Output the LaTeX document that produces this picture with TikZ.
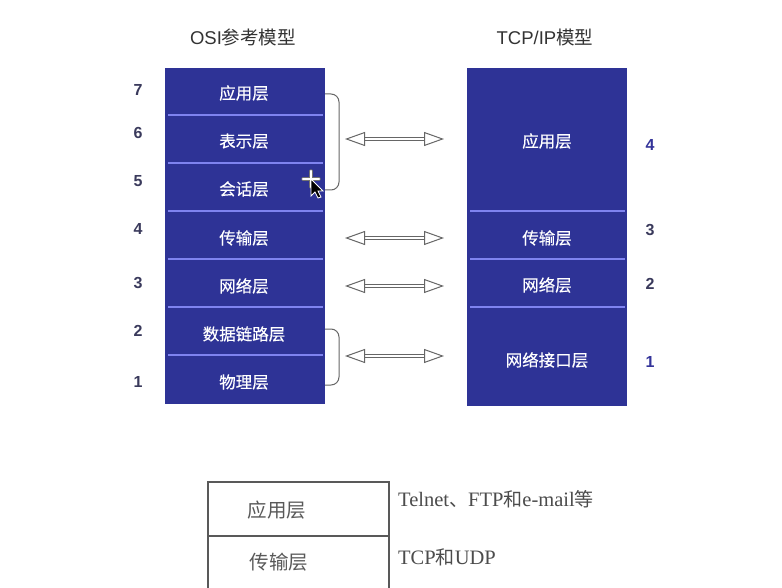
\documentclass[tikz,border=0pt]{standalone}
\usepackage{fontspec}
\setmainfont{Liberation Sans}
\newfontfamily\cjk{Noto Sans CJK SC}
\newfontfamily\cjkw[FakeBold=0.35]{Noto Sans CJK SC}
\newfontfamily\serifl{Liberation Serif}
\usetikzlibrary{arrows.meta}
\definecolor{layerblue}{HTML}{2E3396}
\definecolor{seplight}{HTML}{7F83F0}
\definecolor{numgray}{HTML}{3A3A5C}
\definecolor{numblue}{HTML}{34349A}
\definecolor{titlegray}{HTML}{333333}
\tikzset{
  x=1pt,y=-1pt,
  layer/.style={anchor=center,text=white,font=\cjkw\fontsize{16.5}{18}\selectfont,inner sep=0pt},
  blockfill/.style={fill=layerblue,draw=none},
  sep/.style={draw=seplight,line width=1.3pt},
  title/.style={text=titlegray,font=\fontsize{18.5}{20}\selectfont,inner sep=0pt},
  num/.style={text=numgray,font=\bfseries\fontsize{16}{18}\selectfont,inner sep=0pt},
  brk/.style={draw=black!60,line width=1pt,rounded corners=8pt},
  dblarrow/.style={draw=black!60,line width=1pt,double=white,double distance=2.6pt,
    {Triangle[open,length=20pt,width=14pt,fill=white]}-{Triangle[open,length=20pt,width=14pt,fill=white]}},
  stack/.style={draw=black!65,line width=1.2pt},
  stacktext/.style={text=black!65,font=\cjk\fontsize{19.5}{22}\selectfont,inner sep=0pt},
  note/.style={text=black!70,font=\serifl\fontsize{20.5}{22}\selectfont,inner sep=0pt,anchor=west},
}
\begin{document}
\begin{tikzpicture}
\useasboundingbox (0,0) rectangle (782,588);
\fill[white] (0,0) rectangle (782,588);
% titles
\node[title] (t1) at (243,37) {OSI{\cjk 参考模型}};
\node[title] (t2) at (545,37) {TCP/IP{\cjk 模型}};
% blocks
\fill[blockfill] (165,68) rectangle (325,404);
\fill[blockfill] (467,68) rectangle (627,406);
\foreach \y in {115,163,211,259,307,355}\draw[sep] (168,\y) -- (323,\y);
\foreach \y in {211,259,307}\draw[sep] (470,\y) -- (625,\y);
% OSI labels
\node[layer] (o7) at (244,93) {应用层};
\node[layer] (o6) at (244,141) {表示层};
\node[layer] (o5) at (244,189) {会话层};
\node[layer] (o4) at (244,238) {传输层};
\node[layer] (o3) at (244,286) {网络层};
\node[layer] (o2) at (244,334) {数据链路层};
\node[layer] (o1) at (244,382) {物理层};
% TCP/IP labels
\node[layer] (c4) at (547,141) {应用层};
\node[layer] (c3) at (547,238) {传输层};
\node[layer] (c2) at (547,285) {网络层};
\node[layer] (c1) at (547,360) {网络接口层};
% numbers
\node[num] (n7) at (138,90) {7};
\node[num] (n6) at (138,133) {6};
\node[num] (n5) at (138,181) {5};
\node[num] (n4) at (138,229) {4};
\node[num] (n3) at (138,283) {3};
\node[num] (n2) at (138,331) {2};
\node[num] (n1) at (138,382) {1};
\node[num,text=numblue] (m4) at (650,145) {4};
\node[num] (m3) at (650,230) {3};
\node[num] (m2) at (650,284) {2};
\node[num,text=numblue] (m1) at (650,362) {1};
% brackets
\draw[brk] (325,94) -- (339,94) -- (339,190) -- (325,190);
\draw[brk] (325,329) -- (339,329) -- (339,385) -- (325,385);
% arrows
\coordinate (a1) at (345,139); \coordinate (b1) at (444,139);
\coordinate (a2) at (345,238); \coordinate (b2) at (444,238);
\coordinate (a3) at (345,286); \coordinate (b3) at (444,286);
\coordinate (a4) at (345,356); \coordinate (b4) at (444,356);
\draw[dblarrow] (a1) -- (b1);
\draw[dblarrow] (a2) -- (b2);
\draw[dblarrow] (a3) -- (b3);
\draw[dblarrow] (a4) -- (b4);
% cursor
\begin{scope}[shift={(311,179)}]
\draw[black!55,line width=3.4pt,line cap=round] (-8,0) -- (8,0) (0,-8) -- (0,8);
\draw[white,line width=2.2pt,line cap=round] (-8,0) -- (8,0) (0,-8) -- (0,8);
\draw[fill=black,draw=white,line width=0.8pt] (0,0) -- (0,17) -- (4,13) -- (7,19) -- (10,18) -- (7,12) -- (12,12) -- cycle;
\end{scope}
% lower stack
\draw[stack] (208,588) -- (208,482) -- (389,482) -- (389,588);
\draw[stack] (208,536) -- (389,536);
\node[stacktext] (s1) at (277,510) {应用层};
\node[stacktext] (s2) at (279,562) {传输层};
\node[note] (d1) at (398,499) {Telnet{\cjk\fontsize{19}{22}\selectfont 、}FTP{\cjk\fontsize{19}{22}\selectfont 和}e-mail{\cjk\fontsize{19}{22}\selectfont 等}};
\node[note] (d2) at (398,557) {TCP{\cjk\fontsize{19}{22}\selectfont 和}UDP};
\end{tikzpicture}
\end{document}
